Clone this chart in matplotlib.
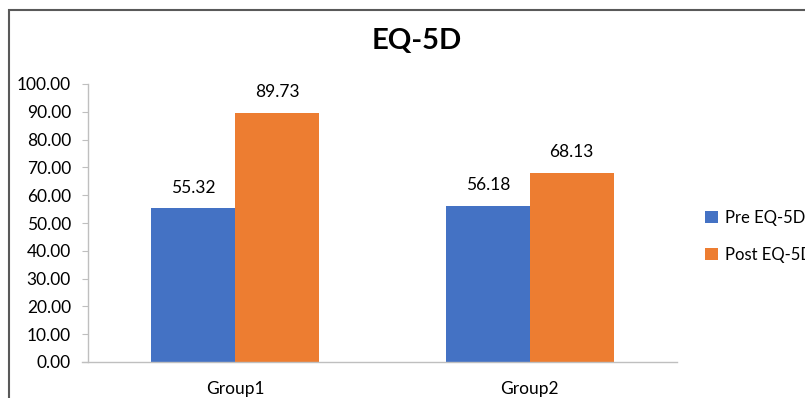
import matplotlib
matplotlib.use("Agg")
import matplotlib.pyplot as plt
from matplotlib.patches import Rectangle
import numpy as np

plt.rcParams['font.family'] = ['Lato', 'DejaVu Sans']

groups = ["Group1", "Group2"]
pre_values = [55.32, 56.18]
post_values = [89.73, 68.13]
series_names = ["Pre EQ-5D", "Post EQ-5D"]
y_ticks = [0, 10, 20, 30, 40, 50, 60, 70, 80, 90, 100]

blue = "#4472C4"
orange = "#ED7D31"
axis_gray = "#BFBFBF"

fig = plt.figure(figsize=(8.05, 3.98), dpi=100)
ax = fig.add_axes([88 / 805, 36 / 398, 589 / 805, 278 / 398])

x = np.arange(len(groups))
w = 0.285
b1 = ax.bar(x - w / 2, pre_values, w, color=blue, label=series_names[0])
b2 = ax.bar(x + w / 2, post_values, w, color=orange, label=series_names[1])

for bars, vals in ((b1, pre_values), (b2, post_values)):
    for bar, v in zip(bars, vals):
        ax.annotate(f"{v:.2f}", (bar.get_x() + bar.get_width() / 2, v),
                    xytext=(0, 9), textcoords="offset points",
                    ha="center", va="bottom", fontsize=12.5, color="black")

ax.set_xlim(-0.5, len(groups) - 0.5)
ax.set_ylim(0, 100)
ax.set_yticks(y_ticks)
ax.set_yticklabels([f"{t:.2f}" for t in y_ticks])
ax.set_xticks(x)
ax.set_xticklabels(groups)

for s in ("top", "right"):
    ax.spines[s].set_visible(False)
ax.spines["left"].set_color(axis_gray)
ax.spines["bottom"].set_color(axis_gray)
ax.spines["left"].set_linewidth(1.0)
ax.spines["bottom"].set_linewidth(1.0)
ax.spines["bottom"].set_bounds(-0.5 - 6 / 294.5, len(groups) - 0.5)

ax.tick_params(axis="y", length=4.3, color=axis_gray, pad=8, labelsize=12.5, labelcolor="black")
ax.tick_params(axis="x", length=0, pad=13.5, labelsize=12.5, labelcolor="black")

fig.text(417 / 805, 1 - 41 / 398, "EQ-5D", ha="center", va="center",
         fontsize=21, fontweight="bold", color="black")

handles = [b1, b2]
fig.legend(handles, series_names, loc="upper left", bbox_to_anchor=(705 / 805, 1 - 210 / 398),
           frameon=False, fontsize=12, handlelength=0.78, handleheight=0.78,
           handletextpad=0.4, labelspacing=1.25, borderaxespad=0, borderpad=0)

# chart frame (extends past the right and bottom edges of the canvas)
fig.patches.append(Rectangle((9 / 805, -0.1), 1.2, 1 - 9.5 / 398 + 0.1,
                             transform=fig.transFigure, fill=False,
                             edgecolor="#595959", linewidth=1.5))

fig.savefig("out.png", dpi=100)
